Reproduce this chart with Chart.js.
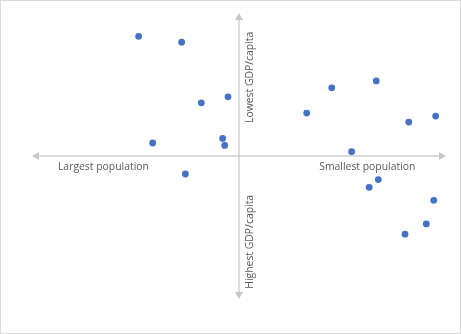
<!DOCTYPE html>
<html>
<head>
<meta charset="utf-8">
<script src="https://cdn.jsdelivr.net/npm/chart.js@4"></script>
<style>
html,body{margin:0;padding:0;background:#fff;}
canvas{display:block;}
</style>
</head>
<body>
<canvas id="c" width="461" height="334"></canvas>
<script>
// Population axis (negative = largest, positive = smallest)
const xValues = [-4.85, -2.77, -1.82, -0.53, -4.17, -0.79, -0.69, -2.59, 3.27, 4.48, 6.63, 8.20, 9.50, 5.44, 6.73, 6.29, 9.41, 9.05, 8.02];
// GDP/capita axis (positive = lowest, negative = highest)
const yValues = [8.37, 7.96, 3.72, 4.14, 0.91, 1.23, 0.74, -1.26, 3.00, 4.77, 5.25, 2.37, 2.79, 0.30, -1.65, -2.19, -3.10, -4.75, -5.47];
const xAxisLabels = ["Largest population", "Smallest population"];
const yAxisLabels = ["Lowest GDP/capita", "Highest GDP/capita"];

const points = xValues.map((x, i) => ({x: x, y: yValues[i]}));

const quadrantAxes = {
  id: 'quadrantAxes',
  beforeDraw(chart) {
    const ctx = chart.ctx;
    ctx.save();
    ctx.fillStyle = '#ffffff';
    ctx.fillRect(0, 0, chart.width, chart.height);
    ctx.strokeStyle = '#d9d9d9';
    ctx.lineWidth = 1;
    ctx.strokeRect(0.5, 0.5, chart.width - 1, chart.height - 1);
    ctx.restore();
  },
  beforeDatasetsDraw(chart) {
    const ctx = chart.ctx;
    const xs = chart.scales.x, ys = chart.scales.y;
    const a = chart.chartArea;
    const cx = xs.getPixelForValue(0);
    const cy = ys.getPixelForValue(0);
    ctx.save();
    ctx.strokeStyle = '#d0d0d0';
    ctx.fillStyle = '#c8c8c8';
    ctx.lineWidth = 1.5;
    const ah = 7, aw = 4;
    // horizontal
    ctx.beginPath();
    ctx.moveTo(a.left + ah, cy); ctx.lineTo(a.right - ah, cy); ctx.stroke();
    ctx.beginPath();
    ctx.moveTo(a.left, cy); ctx.lineTo(a.left + ah, cy - aw); ctx.lineTo(a.left + ah, cy + aw); ctx.closePath(); ctx.fill();
    ctx.beginPath();
    ctx.moveTo(a.right, cy); ctx.lineTo(a.right - ah, cy - aw); ctx.lineTo(a.right - ah, cy + aw); ctx.closePath(); ctx.fill();
    // vertical
    ctx.beginPath();
    ctx.moveTo(cx, a.top + ah); ctx.lineTo(cx, a.bottom - ah); ctx.stroke();
    ctx.beginPath();
    ctx.moveTo(cx, a.top); ctx.lineTo(cx - aw, a.top + ah); ctx.lineTo(cx + aw, a.top + ah); ctx.closePath(); ctx.fill();
    ctx.beginPath();
    ctx.moveTo(cx, a.bottom); ctx.lineTo(cx - aw, a.bottom - ah); ctx.lineTo(cx + aw, a.bottom - ah); ctx.closePath(); ctx.fill();

    // labels
    ctx.fillStyle = '#595959';
    ctx.font = '10.4px "Open Sans", "Liberation Sans", sans-serif';
    ctx.textAlign = 'center';
    ctx.textBaseline = 'middle';
    ctx.fillText(xAxisLabels[0], xs.getPixelForValue(-6.55), cy + 11);
    ctx.fillText(xAxisLabels[1], xs.getPixelForValue(6.2), cy + 11);
    ctx.save();
    ctx.translate(cx + 11, ys.getPixelForValue(5.5));
    ctx.rotate(-Math.PI / 2);
    ctx.fillText(yAxisLabels[0], 0, 0);
    ctx.restore();
    ctx.save();
    ctx.translate(cx + 11, ys.getPixelForValue(-6.0));
    ctx.rotate(-Math.PI / 2);
    ctx.fillText(yAxisLabels[1], 0, 0);
    ctx.restore();
    ctx.restore();
  }
};

new Chart(document.getElementById('c'), {
  type: 'scatter',
  data: {
    datasets: [{
      data: points,
      backgroundColor: '#4472C4',
      borderColor: '#4472C4',
      pointRadius: 3.4,
      pointHoverRadius: 3.4,
      borderWidth: 0
    }]
  },
  options: {
    responsive: false,
    animation: false,
    layout: { padding: { left: 32, right: 15, top: 13, bottom: 35 } },
    plugins: { legend: { display: false }, tooltip: { enabled: false } },
    scales: {
      x: { type: 'linear', min: -10, max: 10, display: false },
      y: { type: 'linear', min: -10, max: 10, display: false }
    }
  },
  plugins: [quadrantAxes]
});
</script>
</body>
</html>
